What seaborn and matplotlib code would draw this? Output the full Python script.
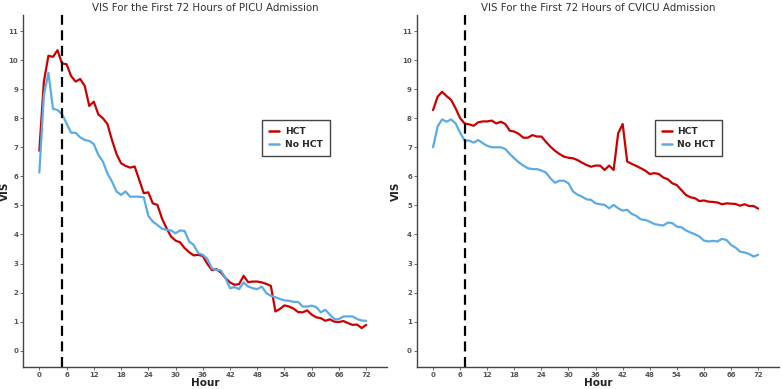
import numpy as np
import pandas as pd
import matplotlib
matplotlib.use("Agg")
import matplotlib.pyplot as plt
import seaborn as sns

hours = list(range(0, 73))

picu_hct = [6.88, 9.26, 10.15, 10.11, 10.34, 9.88, 9.86, 9.45, 9.26, 9.35,
            9.11, 8.42, 8.57, 8.13, 8.0, 7.8, 7.25, 6.77, 6.45, 6.36,
            6.3, 6.34, 5.88, 5.42, 5.45, 5.07, 5.02, 4.56, 4.22, 3.93,
            3.79, 3.73, 3.53, 3.39, 3.28, 3.30, 3.26, 2.99, 2.78, 2.81,
            2.69, 2.50, 2.35, 2.27, 2.29, 2.58, 2.36, 2.38, 2.38, 2.35,
            2.30, 2.23, 1.35, 1.44, 1.56, 1.52, 1.45, 1.33, 1.32, 1.39,
            1.24, 1.15, 1.12, 1.03, 1.08, 1.0, 0.99, 1.02, 0.95, 0.89,
            0.90, 0.78, 0.89]
picu_nohct = [6.13, 8.8, 9.56, 8.33, 8.28, 8.14, 7.82, 7.50, 7.50, 7.34,
              7.25, 7.22, 7.11, 6.74, 6.51, 6.1, 5.82, 5.48, 5.36, 5.48,
              5.3, 5.3, 5.3, 5.28, 4.64, 4.44, 4.33, 4.2, 4.16, 4.14,
              4.04, 4.14, 4.12, 3.76, 3.64, 3.36, 3.30, 3.16, 2.84, 2.78,
              2.76, 2.50, 2.15, 2.19, 2.12, 2.35, 2.21, 2.15, 2.12, 2.21,
              1.98, 1.89, 1.84, 1.78, 1.73, 1.72, 1.68, 1.68, 1.52, 1.52,
              1.55, 1.50, 1.32, 1.41, 1.24, 1.09, 1.09, 1.18, 1.18, 1.18,
              1.09, 1.04, 1.03]
cvicu_hct = [8.28, 8.74, 8.91, 8.76, 8.63, 8.34, 8.0, 7.82, 7.79, 7.74,
             7.86, 7.89, 7.89, 7.92, 7.82, 7.88, 7.80, 7.57, 7.54, 7.46,
             7.33, 7.33, 7.42, 7.37, 7.37, 7.19, 7.02, 6.88, 6.77, 6.68,
             6.64, 6.62, 6.56, 6.47, 6.39, 6.33, 6.37, 6.37, 6.22, 6.37,
             6.22, 7.48, 7.80, 6.51, 6.43, 6.36, 6.28, 6.20, 6.08, 6.11,
             6.08, 5.96, 5.90, 5.76, 5.70, 5.53, 5.36, 5.28, 5.25, 5.15,
             5.17, 5.13, 5.12, 5.10, 5.04, 5.07, 5.06, 5.05, 4.99, 5.04,
             4.98, 4.98, 4.89]
cvicu_nohct = [7.0, 7.71, 7.96, 7.88, 7.96, 7.82, 7.5, 7.23, 7.23, 7.16,
               7.25, 7.14, 7.05, 7.0, 7.0, 7.0, 6.94, 6.77, 6.62, 6.48,
               6.37, 6.28, 6.25, 6.25, 6.20, 6.13, 5.93, 5.78, 5.85, 5.85,
               5.76, 5.48, 5.37, 5.30, 5.21, 5.19, 5.07, 5.04, 5.02, 4.90,
               5.02, 4.90, 4.82, 4.85, 4.71, 4.64, 4.52, 4.50, 4.44, 4.36,
               4.33, 4.31, 4.41, 4.39, 4.27, 4.25, 4.14, 4.07, 4.01, 3.93,
               3.79, 3.76, 3.78, 3.76, 3.85, 3.81, 3.64, 3.55, 3.41, 3.38,
               3.33, 3.24, 3.30]

groups = ["HCT", "No HCT"]
titles = ["VIS For the First 72 Hours of PICU Admission",
          "VIS For the First 72 Hours of CVICU Admission"]
cutoffs = [5, 7]
xticks = list(range(0, 73, 6))
yticks = list(range(0, 12))

palette = {"HCT": "#cc0000", "No HCT": "#5aabe6"}

sns.set_theme(style="white")
plt.rcParams['font.family'] = ['DejaVu Sans']

fig = plt.figure(figsize=(7.82, 3.89), dpi=100)
ax1 = fig.add_axes([0.0294, 0.0573, 0.4656, 0.904])
ax2 = fig.add_axes([0.533, 0.0573, 0.463, 0.904])

datasets = [(picu_hct, picu_nohct), (cvicu_hct, cvicu_nohct)]
label_x = [-0.037, -0.044]
for ax, (hct, nohct), title, cut, lx in zip([ax1, ax2], datasets, titles,
                                             cutoffs, label_x):
    df = pd.DataFrame({
        "Hour": hours + hours,
        "VIS": hct + nohct,
        "Group": [groups[0]] * len(hours) + [groups[1]] * len(hours),
    })
    sns.lineplot(data=df, x="Hour", y="VIS", hue="Group", palette=palette,
                 linewidth=1.6, ax=ax)
    ax.axvline(cut, color="black", linestyle=(0, (4.5, 2.5)), linewidth=1.6)
    ax.set_xlim(-3.6, 76.6)
    ax.set_ylim(-0.55, 11.55)
    ax.set_xticks(xticks)
    ax.set_yticks(yticks)
    ax.tick_params(axis="both", labelsize=5, colors="#555555", length=2,
                   width=0.6, pad=1.5, bottom=True, left=True)
    for lab in ax.get_xticklabels() + ax.get_yticklabels():
        lab.set_fontweight("bold")
    ax.set_xlabel("Hour", fontsize=7.5, fontweight="bold", labelpad=0,
                  color="#222222")
    ax.set_ylabel("VIS", fontsize=7.5, fontweight="bold", color="#222222")
    ax.yaxis.set_label_coords(lx, 0.5)
    ax.set_title(title, fontsize=7.4, pad=3, color="#333333")
    for s in ["top", "right"]:
        ax.spines[s].set_visible(False)
    for s in ["left", "bottom"]:
        ax.spines[s].set_color("#444444")
        ax.spines[s].set_linewidth(1.0)
    leg = ax.legend(loc="center", bbox_to_anchor=(0.75, 0.65), frameon=True,
                    fancybox=False, edgecolor="#444444", framealpha=1,
                    prop={"weight": "bold", "size": 6.6}, handlelength=1.1,
                    handletextpad=0.6, borderpad=0.75, labelspacing=0.45,
                    borderaxespad=0)
    leg.get_frame().set_linewidth(1.0)
    for line in leg.get_lines():
        line.set_linewidth(1.8)

fig.savefig("out.png", dpi=100)
